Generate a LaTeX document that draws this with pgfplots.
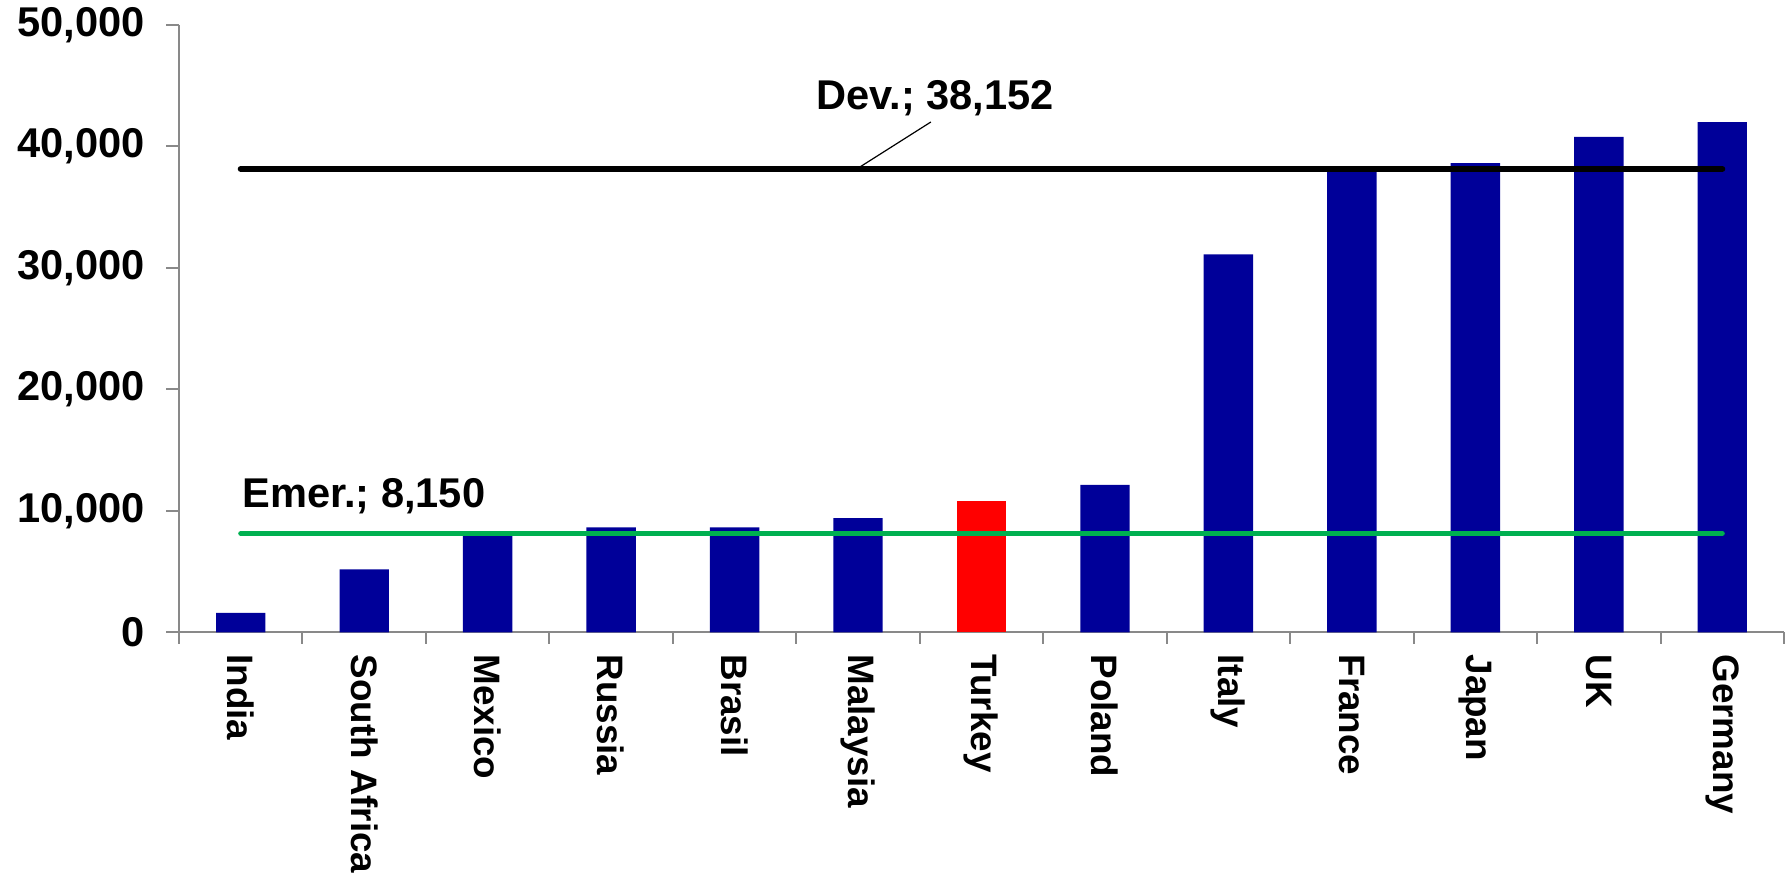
\documentclass[border=0pt]{standalone}
\usepackage{pgfplots}
\pgfplotsset{compat=1.18}
\usepackage{fontspec}
\setmainfont{Liberation Sans}
\definecolor{navy}{RGB}{0,0,153}
\definecolor{emgreen}{RGB}{0,176,80}
\definecolor{axgray}{RGB}{137,137,137}
\begin{document}
\begin{tikzpicture}
\useasboundingbox (-89.5pt,-124.25pt) rectangle (804pt,316.25pt);
\begin{axis}[
  at={(0pt,0pt)}, anchor=south west,
  scale only axis, width=802.5pt, height=303.75pt,
  xmin=-0.5, xmax=12.5, ymin=0, ymax=50000,
  axis x line*=bottom, axis y line*=left,
  axis line style={axgray, line width=1pt},
  clip=false,
  xtick={0,...,12},
  xticklabels={India,South Africa,Mexico,Russia,Brasil,Malaysia,Turkey,Poland,Italy,France,Japan,UK,Germany},
  major x tick style={draw=none},
  minor xtick={-0.5,0.5,...,12.5},
  tick align=outside,
  minor tick length=5.75pt, major tick length=6.5pt,
  tick style={axgray, line width=1pt},
  ytick={0,10000,20000,30000,40000,50000},
  scaled y ticks=false,
  /pgf/number format/.cd, 1000 sep={,}, assume math mode=true,
  /pgfplots/.cd,
  yticklabel style={font=\fontsize{20.8}{24}\selectfont\bfseries, text=black, xshift=-7pt},
  xticklabel style={rotate=-90, anchor=west, font=\fontsize{18.4}{22}\selectfont\bfseries, text=black, xshift=1pt},
]
\addplot[ybar, bar width=0.4, bar shift=0pt, fill=navy, draw=none] coordinates {
  (0,1610) (1,5185) (2,8100) (3,8650) (4,8650) (5,9415) (7,12160) (8,31120) (9,38100) (10,38640) (11,40790) (12,42000)
};
\addplot[ybar, bar width=0.4, bar shift=0pt, fill=red, draw=none] coordinates {(6,10800)};
\addplot[black, line width=3pt, line cap=round] coordinates {(0,38152) (12,38152)};
\addplot[emgreen, line width=2.5pt, line cap=round] coordinates {(0,8150) (12,8150)};
\draw[black, line width=0.6pt] (axis cs:4.99,38152) -- (axis cs:5.59,42017);
\node[anchor=base west, inner sep=0pt, font=\fontsize{20.8}{24}\selectfont\bfseries] at (axis cs:4.66,43004) {Dev.; 38,152};
\node[anchor=base west, inner sep=0pt, font=\fontsize{20.8}{24}\selectfont\bfseries] at (axis cs:0.01,10280) {Emer.; 8,150};
\end{axis}
\end{tikzpicture}
\end{document}
